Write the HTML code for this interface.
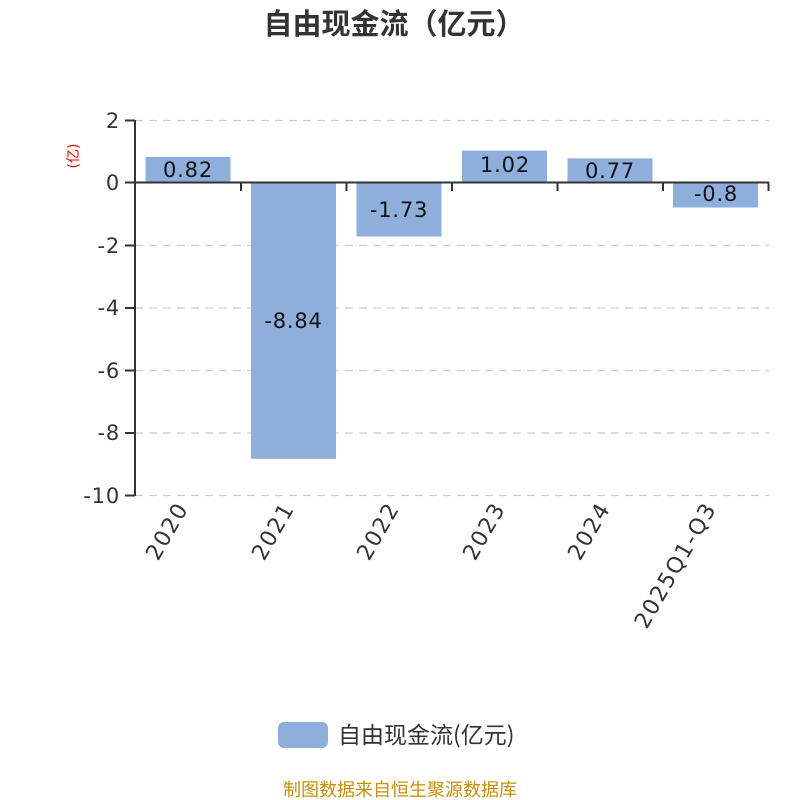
<!DOCTYPE html>
<html><head><meta charset="utf-8"><style>body{margin:0;background:#fff}svg{display:block}</style></head>
<body>
<svg width="800" height="800" xmlns="http://www.w3.org/2000/svg" font-family="DejaVu Sans, Noto Sans CJK SC, sans-serif">
<text x="394" y="34" text-anchor="middle" font-size="29" font-weight="bold" fill="#333" font-family="Noto Sans CJK SC, sans-serif">自由现金流（亿元）</text>
<g stroke="#ccc" stroke-width="1.3" stroke-dasharray="8,6">
<line x1="135" y1="120.5" x2="769" y2="120.5"/>
<line x1="135" y1="245.5" x2="769" y2="245.5"/>
<line x1="135" y1="308" x2="769" y2="308"/>
<line x1="135" y1="370.5" x2="769" y2="370.5"/>
<line x1="135" y1="433" x2="769" y2="433"/>
<line x1="135" y1="495.5" x2="769" y2="495.5"/>
</g>
<g fill="#8eaedb">
<rect x="145.5" y="156.9" width="85" height="25.6"/>
<rect x="251" y="182.5" width="85" height="276.3"/>
<rect x="356.5" y="182.5" width="85" height="54"/>
<rect x="462" y="150.6" width="85" height="31.9"/>
<rect x="567.5" y="158.4" width="85" height="24"/>
<rect x="673" y="182.5" width="85" height="25"/>
</g>
<g stroke="#333" stroke-width="2">
<line x1="135" y1="120" x2="135" y2="496"/>
<line x1="134" y1="182.5" x2="769" y2="182.5"/>
<line x1="125" y1="120.5" x2="135" y2="120.5"/>
<line x1="125" y1="182.5" x2="135" y2="182.5"/>
<line x1="125" y1="245.5" x2="135" y2="245.5"/>
<line x1="125" y1="308" x2="135" y2="308"/>
<line x1="125" y1="370.5" x2="135" y2="370.5"/>
<line x1="125" y1="433" x2="135" y2="433"/>
<line x1="125" y1="495.5" x2="135" y2="495.5"/>
<line x1="241" y1="182.5" x2="241" y2="191"/>
<line x1="346.5" y1="182.5" x2="346.5" y2="191"/>
<line x1="452" y1="182.5" x2="452" y2="191"/>
<line x1="557.5" y1="182.5" x2="557.5" y2="191"/>
<line x1="663" y1="182.5" x2="663" y2="191"/>
<line x1="768.5" y1="182.5" x2="768.5" y2="191"/>
</g>
<g font-size="21" fill="#333" text-anchor="end" letter-spacing="0.8">
<text x="120" y="128">2</text>
<text x="120" y="190">0</text>
<text x="120" y="253">-2</text>
<text x="120" y="315">-4</text>
<text x="120" y="378">-6</text>
<text x="120" y="440">-8</text>
<text x="120" y="503">-10</text>
</g>
<text transform="translate(78,156) rotate(-90)" text-anchor="middle" font-size="14" fill="#e00">(亿)</text>
<g font-size="21" fill="#111" text-anchor="middle" letter-spacing="0.8">
<text x="188" y="177">0.82</text>
<text x="293.5" y="328">-8.84</text>
<text x="399" y="217">-1.73</text>
<text x="505" y="172">1.02</text>
<text x="610" y="178">0.77</text>
<text x="716" y="201">-0.8</text>
</g>
<g font-size="22" fill="#333" text-anchor="end" letter-spacing="1.5">
<text transform="translate(189,508) rotate(-60)">2020</text>
<text transform="translate(295,508) rotate(-60)">2021</text>
<text transform="translate(400,508) rotate(-60)">2022</text>
<text transform="translate(506,508) rotate(-60)">2023</text>
<text transform="translate(611,508) rotate(-60)">2024</text>
<text transform="translate(717,508) rotate(-60)">2025Q1-Q3</text>
</g>
<rect x="278" y="722" width="50" height="26" rx="6" fill="#8eaedb"/>
<text x="338" y="743" font-size="23" fill="#333" font-family="Noto Sans CJK SC, sans-serif">自由现金流(亿元)</text>
<text x="400" y="796" text-anchor="middle" font-size="18" fill="#c8900a" font-family="Noto Sans CJK SC, sans-serif">制图数据来自恒生聚源数据库</text>
</svg>
</body></html>
